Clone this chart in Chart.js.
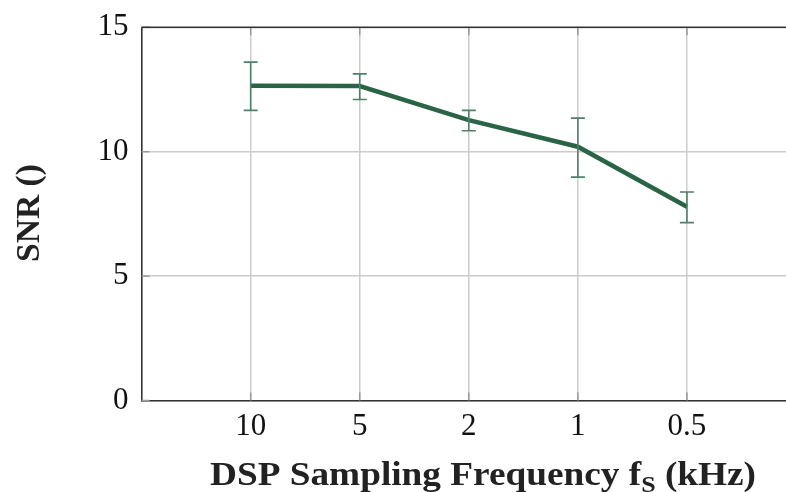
<!DOCTYPE html>
<html>
<head>
<meta charset="utf-8">
<script src="https://cdn.jsdelivr.net/npm/chart.js@4"></script>
<style>
  html, body { margin: 0; padding: 0; background: #fff; overflow: hidden; width: 786px; height: 492px; }
  #clip { width: 786px; height: 492px; overflow: hidden; position: relative; }
  #wrap { width: 800px; height: 492px; position: absolute; left: 0; top: 0; }
</style>
</head>
<body>
<div id="clip"><div id="wrap"><canvas id="c" width="800" height="492"></canvas></div></div>
<script>
// ---- data ----
const categories = ['10', '5', '2', '1', '0.5'];
const snrMean  = [12.65, 12.64, 11.27, 10.2, 7.79];
const snrUpper = [13.6, 13.13, 11.66, 11.35, 8.38];
const snrLower = [11.66, 12.1, 10.84, 8.98, 7.15];
const yTicks = [0, 5, 10, 15];
const xTitleMain = 'DSP Sampling Frequency f';
const xTitleSub = 'S';
const xTitleTail = ' (kHz)';
const yTitle = 'SNR ()';

const serif = '"Liberation Serif", "DejaVu Serif", serif';
const lineColor = '#2a6446';
const errColor = '#4f8168';

const extras = {
  id: 'extras',
  afterDatasetsDraw(chart) {
    const ctx = chart.ctx;
    const xs = chart.scales.x, ys = chart.scales.y;
    ctx.save();
    ctx.strokeStyle = errColor;
    ctx.lineWidth = 1.6;
    categories.forEach((c, i) => {
      const px = xs.getPixelForValue(i + 1);
      const t = ys.getPixelForValue(snrUpper[i]);
      const b = ys.getPixelForValue(snrLower[i]);
      ctx.beginPath();
      ctx.moveTo(px, t); ctx.lineTo(px, b);
      ctx.moveTo(px - 7, t); ctx.lineTo(px + 7, t);
      ctx.moveTo(px - 7, b); ctx.lineTo(px + 7, b);
      ctx.stroke();
    });
    ctx.restore();
  },
  afterDraw(chart) {
    const ctx = chart.ctx;
    const xs = chart.scales.x, ys = chart.scales.y;
    const a = chart.chartArea;
    ctx.save();
    ctx.strokeStyle = '#999';
    ctx.lineWidth = 1.5;
    categories.forEach((c, i) => {
      const px = xs.getPixelForValue(i + 1);
      ctx.beginPath();
      ctx.moveTo(px, a.bottom); ctx.lineTo(px, a.bottom - 8);
      ctx.moveTo(px, a.top); ctx.lineTo(px, a.top + 8);
      ctx.stroke();
    });
    yTicks.forEach(v => {
      const py = ys.getPixelForValue(v);
      ctx.beginPath();
      ctx.moveTo(a.left, py); ctx.lineTo(a.left + 8, py);
      ctx.stroke();
    });
    ctx.strokeStyle = '#333';
    ctx.lineWidth = 1.6;
    ctx.beginPath();
    ctx.moveTo(a.left, a.top); ctx.lineTo(a.right + 2, a.top);
    ctx.stroke();

    const mainFont = 'bold 33px ' + serif;
    const subFont = 'bold 23px ' + serif;
    ctx.fillStyle = '#222';

    ctx.font = mainFont;
    const yw = ctx.measureText(yTitle).width;
    ctx.textAlign = 'center';
    ctx.textBaseline = 'alphabetic';
    ctx.translate(39, 213);
    ctx.rotate(-Math.PI / 2);
    ctx.scale(98 / yw, 1);
    ctx.fillText(yTitle, 0, 0);
    ctx.setTransform(1, 0, 0, 1, 0, 0);

    ctx.font = mainFont;
    const w1 = ctx.measureText(xTitleMain).width;
    const w3 = ctx.measureText(xTitleTail).width;
    ctx.font = subFont;
    const w2 = ctx.measureText(xTitleSub).width;
    const total = w1 + w2 + w3;
    const target = 546;
    const sx = target / total;
    const base = 485;
    ctx.translate(483 - target / 2, base);
    ctx.scale(sx, 1);
    ctx.textAlign = 'left';
    ctx.font = mainFont;
    ctx.fillText(xTitleMain, 0, 0);
    ctx.font = subFont;
    ctx.fillText(xTitleSub, w1, 7);
    ctx.font = mainFont;
    ctx.fillText(xTitleTail, w1 + w2, 0);
    ctx.restore();
  }
};

new Chart(document.getElementById('c'), {
  type: 'line',
  data: {
    datasets: [{
      data: categories.map((c, i) => ({ x: i + 1, y: snrMean[i] })),
      borderColor: lineColor,
      borderWidth: 4.5,
      pointRadius: 0,
      tension: 0,
      fill: false
    }]
  },
  options: {
    responsive: false,
    animation: false,
    events: [],
    layout: { padding: { top: 27.3, right: 4, left: 0, bottom: 0 } },
    plugins: { legend: { display: false }, tooltip: { enabled: false } },
    scales: {
      x: {
        type: 'linear',
        min: 0, max: 6,
        afterBuildTicks: s => { s.ticks = categories.map((c, i) => ({ value: i + 1 })); },
        afterFit: s => { s.height = 91.5; s.paddingLeft = 0; s.paddingRight = 0; },
        ticks: {
          callback: v => categories[v - 1],
          font: { family: serif, size: 31 },
          color: '#111',
          padding: 8,
          maxRotation: 0,
          autoSkip: false
        },
        grid: { color: '#cccccc', lineWidth: 1.5, drawTicks: false },
        border: { color: '#333', width: 1.6 }
      },
      y: {
        min: 0, max: 15,
        afterBuildTicks: s => { s.ticks = yTicks.map(v => ({ value: v })); },
        afterFit: s => { s.width = 141.6; s.paddingTop = 0; s.paddingBottom = 0; },
        ticks: {
          font: { family: serif, size: 31 },
          color: '#111',
          padding: 13
        },
        grid: { color: '#cccccc', lineWidth: 1.5, drawTicks: false },
        border: { color: '#333', width: 1.6 }
      }
    }
  },
  plugins: [extras]
});
</script>
</body>
</html>
